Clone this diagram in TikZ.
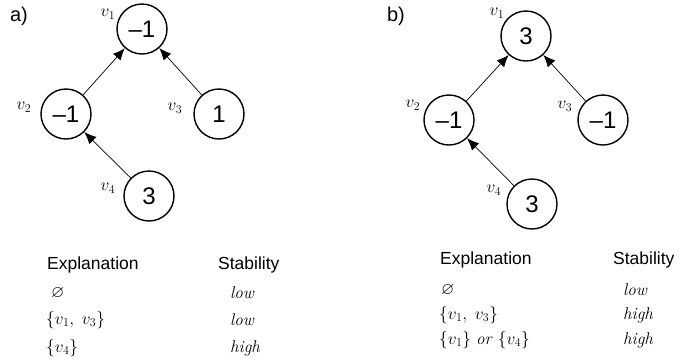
\documentclass[tikz,border=0pt]{standalone}
\usepackage{amssymb}
\usepackage[no-math]{fontspec}
\setsansfont{Liberation Sans}
\usetikzlibrary{arrows.meta}
\begin{document}
\begin{tikzpicture}[x=1pt,y=-1pt,
  vert/.style={circle,draw,line width=1.4pt,minimum size=50pt,inner sep=0pt,font=\sffamily\fontsize{24}{24}\selectfont},
  vlab/.style={inner sep=0pt,font=\fontsize{18}{18}\selectfont},
  edge/.style={-{Latex[length=12pt,width=10pt]},line width=0.7pt},
  head/.style={anchor=west,inner sep=0pt,font=\sffamily\fontsize{17.5}{17.5}\selectfont},
  cell/.style={anchor=west,inner sep=0pt,font=\fontsize{17}{17}\selectfont},
  panel/.style={inner sep=0pt,font=\sffamily\fontsize{20}{20}\selectfont}]
\useasboundingbox (0,0) rectangle (699,360);
% panel a
\node[panel] (pa) at (19,16) {a)};
\node[vert] (a1) at (142,29) {–1};
\node[vert] (a2) at (66,114) {–1};
\node[vert] (a3) at (219,114) {1};
\node[vert] (a4) at (149,196) {3};
\node[vlab] (la1) at (108,14) {$v_1$};
\node[vlab] (la2) at (24,107) {$v_2$};
\node[vlab] (la3) at (175,108) {$v_3$};
\node[vlab] (la4) at (108,188) {$v_4$};
\draw[edge] (a2) -- (a1);
\draw[edge] (a3) -- (a1);
\draw[edge] (a4) -- (a2);
\node[head] (ea) at (47,265) {Explanation};
\node[head] (sa) at (218,265) {Stability};
\node[cell] (ea1) at (51,293) {$\varnothing$};
\node[cell] (sa1) at (230,293) {\textit{low}};
\node[cell] (ea2) at (46,320) {$\{v_1,\; v_3\}$};
\node[cell] (sa2) at (230,320) {\textit{low}};
\node[cell] (ea3) at (46,348) {$\{v_4\}$};
\node[cell] (sa3) at (230,348) {\textit{high}};
% panel b
\node[panel] (pb) at (396,16) {b)};
\node[vert] (b1) at (526,36) {3};
\node[vert] (b2) at (449,120) {–1};
\node[vert] (b3) at (603,120) {–1};
\node[vert] (b4) at (532,204) {3};
\node[vlab] (lb1) at (497,13) {$v_1$};
\node[vlab] (lb2) at (413,105) {$v_2$};
\node[vlab] (lb3) at (565,106) {$v_3$};
\node[vlab] (lb4) at (494,190) {$v_4$};
\draw[edge] (b2) -- (b1);
\draw[edge] (b3) -- (b1);
\draw[edge] (b4) -- (b2);
\node[head] (eb) at (440,260) {Explanation};
\node[head] (sb) at (613,260) {Stability};
\node[cell] (eb1) at (441,290) {$\varnothing$};
\node[cell] (sb1) at (623,290) {\textit{low}};
\node[cell] (eb2) at (439,315) {$\{v_1,\; v_3\}$};
\node[cell] (sb2) at (623,315) {\textit{high}};
\node[cell] (eb3) at (439,340) {$\{v_1\}$ \textit{or} $\{v_4\}$};
\node[cell] (sb3) at (623,340) {\textit{high}};
\end{tikzpicture}
\end{document}
